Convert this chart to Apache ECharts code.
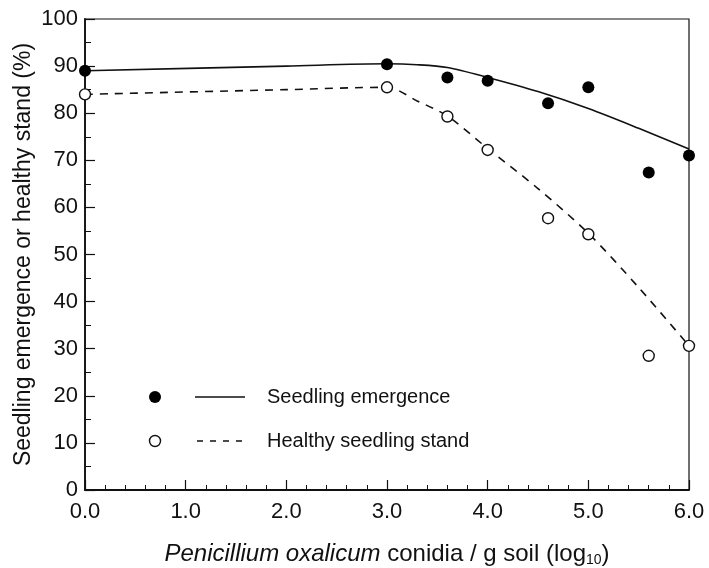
<!DOCTYPE html>
<html lang="en">
<head>
    <meta charset="UTF-8">
    <title>Seedling emergence</title>
    <script src="https://cdn.jsdelivr.net/npm/echarts@6/dist/echarts.min.js"></script>
    <style>
        body { margin: 0; background: #fff; }
        #chart { width: 709px; height: 568px; }
    </style>
</head>
<body>
    <div id="chart"></div>
    <script>
        // observed data (log10 conidia / g soil)
        var doses = [0.0, 3.0, 3.6, 4.0, 4.6, 5.0, 5.6, 6.0];
        var emergence = [89.0, 90.4, 87.6, 86.9, 82.1, 85.5, 67.4, 71.0];
        var healthy = [84.0, 85.5, 79.3, 72.2, 57.7, 54.3, 28.5, 30.6];

        // fitted curves
        var fitX = [0.0, 2.0, 3.0, 3.3, 3.6, 4.0, 4.5, 5.0, 5.5, 6.0];
        var emergenceFit = [89.0, 90.0, 90.5, 90.3, 89.7, 87.6, 84.6, 81.0, 76.8, 72.4];
        var healthyFit = [84.0, 85.0, 85.5, 82.6, 79.4, 72.5, 64.0, 54.5, 43.0, 30.6];

        var font = '"Liberation Sans", Arial, sans-serif';
        var chart = echarts.init(document.getElementById('chart'));

        function pairs(xs, ys) {
            return xs.map(function (x, i) { return [x, ys[i]]; });
        }

        var option = {
            animation: false,
            grid: {
                left: 85, right: 20, top: 19, bottom: 78,
                outerBoundsMode: 'none',
                show: true, borderColor: '#111', borderWidth: 1.2
            },
            xAxis: {
                type: 'value', min: 0, max: 6, interval: 1,
                name: '{i|Penicillium oxalicum} conidia / g soil (log{s|10})',
                nameLocation: 'middle', nameGap: 51, nameMoveOverlap: false,
                nameTextStyle: {
                    fontFamily: font, fontSize: 24, color: '#111',
                    rich: {
                        i: { fontFamily: font, fontSize: 24, fontStyle: 'italic', color: '#111' },
                        s: { fontFamily: font, fontSize: 14, color: '#111', padding: [12, 0, 0, 0] }
                    }
                },
                axisLine: { lineStyle: { color: '#111', width: 1.8 } },
                axisTick: { inside: true, length: 10, lineStyle: { color: '#111', width: 1.2 } },
                minorTick: { show: true, splitNumber: 5, length: 5, lineStyle: { color: '#111', width: 1 } },
                splitLine: { show: false },
                axisLabel: {
                    fontFamily: font, fontSize: 22, color: '#111', margin: 11,
                    formatter: function (v) { return v.toFixed(1); }
                }
            },
            yAxis: {
                type: 'value', min: 0, max: 100, interval: 10,
                name: 'Seedling emergence or healthy stand (%)',
                nameLocation: 'middle', nameGap: 50, nameMoveOverlap: false,
                nameTextStyle: { fontFamily: font, fontSize: 23, color: '#111' },
                axisLine: { show: true, lineStyle: { color: '#111', width: 1.8 } },
                axisTick: { show: true, inside: true, length: 10, lineStyle: { color: '#111', width: 1.2 } },
                minorTick: { show: true, splitNumber: 2, length: 6, lineStyle: { color: '#111', width: 1 } },
                splitLine: { show: false },
                axisLabel: { fontFamily: font, fontSize: 22, color: '#111', margin: 7 }
            },
            series: [
                {
                    name: 'Seedling emergence fit', type: 'line', data: pairs(fitX, emergenceFit),
                    smooth: 0.3, showSymbol: false,
                    lineStyle: { color: '#111', width: 1.6 }, z: 2
                },
                {
                    name: 'Healthy seedling stand fit', type: 'line', data: pairs(fitX, healthyFit),
                    smooth: 0.3, showSymbol: false,
                    lineStyle: { color: '#111', width: 1.6, type: [8, 7] }, z: 2
                },
                {
                    name: 'Seedling emergence', type: 'scatter', data: pairs(doses, emergence),
                    symbol: 'circle', symbolSize: 12,
                    itemStyle: { color: '#000', opacity: 1 }, z: 5
                },
                {
                    name: 'Healthy seedling stand', type: 'scatter', data: pairs(doses, healthy),
                    symbol: 'circle', symbolSize: 11,
                    itemStyle: { color: '#fff', borderColor: '#111', borderWidth: 1.4, opacity: 1 }, z: 5
                }
            ],
            graphic: [
                { type: 'circle', shape: { cx: 155, cy: 397, r: 6 }, style: { fill: '#000' } },
                { type: 'line', shape: { x1: 195, y1: 397, x2: 245, y2: 397 }, style: { stroke: '#111', lineWidth: 1.5 } },
                { type: 'text', x: 267, y: 397, style: { text: 'Seedling emergence', fontFamily: font, fontSize: 20, fill: '#111', verticalAlign: 'middle' } },
                { type: 'circle', shape: { cx: 155, cy: 441, r: 5.5 }, style: { fill: '#fff', stroke: '#111', lineWidth: 1.4 } },
                { type: 'line', shape: { x1: 197, y1: 441, x2: 243, y2: 441 }, style: { stroke: '#111', lineWidth: 1.5, lineDash: [6, 7] } },
                { type: 'text', x: 267, y: 441, style: { text: 'Healthy seedling stand', fontFamily: font, fontSize: 20, fill: '#111', verticalAlign: 'middle' } }
            ]
        };

        chart.setOption(option);
    </script>
</body>
</html>
